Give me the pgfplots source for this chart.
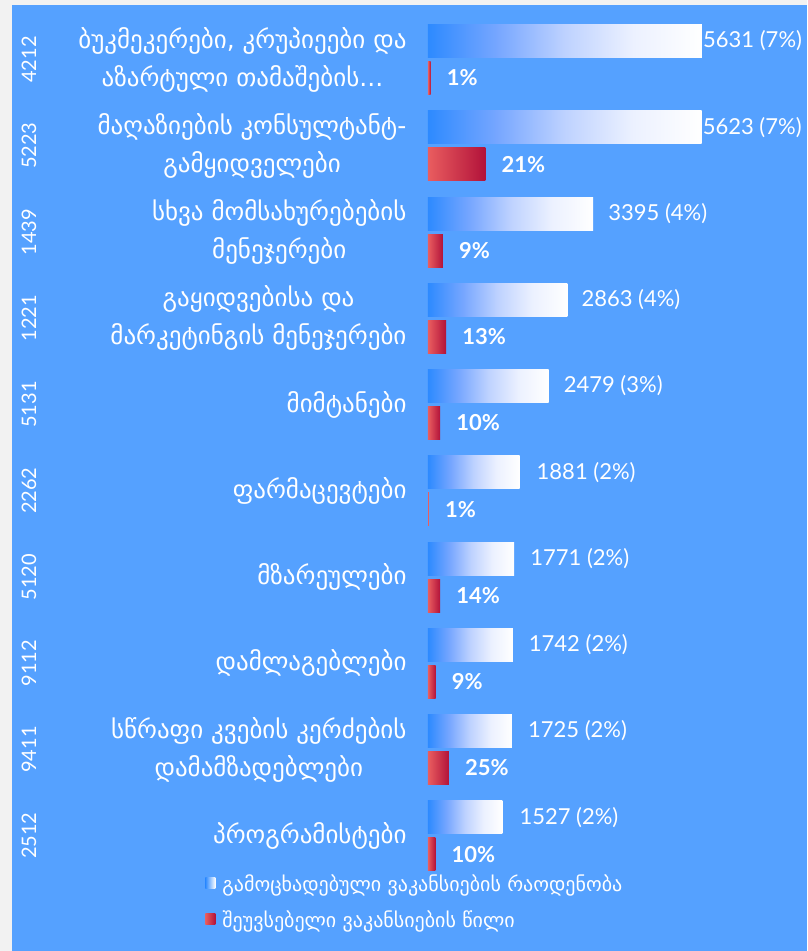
\documentclass[border=0pt]{standalone}
\usepackage{fontspec}
\setmainfont{Lato}
\newfontfamily\geo{DejaVu Sans}
\usepackage{pgfplots}
\usepackage{pgfplotstable}
\pgfplotsset{compat=1.18}

\definecolor{bg}{RGB}{85,161,255}
\definecolor{bluel}{RGB}{45,138,255}
\definecolor{blueq}{RGB}{118,166,255}
\definecolor{blueh}{RGB}{190,210,255}
\definecolor{bluet}{RGB}{236,241,255}
\definecolor{redl}{RGB}{233,93,95}
\definecolor{redr}{RGB}{178,18,58}

% the bar is mapped onto 25bp..75bp of the shading
\pgfdeclarehorizontalshading{bluebar}{100bp}{color(0bp)=(bluel); color(25bp)=(bluel);
  color(37.5bp)=(blueq); color(50bp)=(blueh); color(62.5bp)=(bluet);
  color(75bp)=(white); color(100bp)=(white)}

% announced vacancies (count, share) -- row 0 is the top bar
\pgfplotstableread[col sep=comma]{
i,v,lab,dx
0,5631,5631 (7\%),1
1,5623,5623 (7\%),1
2,3395,3395 (4\%),15
3,2863,2863 (4\%),14
4,2479,2479 (3\%),15
5,1881,1881 (2\%),17
6,1771,1771 (2\%),16
7,1742,1742 (2\%),16
8,1725,1725 (2\%),16
9,1527,1527 (2\%),17
}\announced

% unfilled vacancies (count on the same scale, labelled with share)
\pgfplotstableread[col sep=comma]{
i,v,lab
0,56,1\%
1,1181,21\%
2,306,9\%
3,372,13\%
4,248,10\%
5,19,1\%
6,248,14\%
7,157,9\%
8,431,25\%
9,153,10\%
}\unfilled

\pgfplotsset{
  bluebars/.style={xbar, bar shift=18.5pt, draw=none, shading=bluebar, forget plot,
    point meta=explicit symbolic,
    visualization depends on={\thisrow{dx} \as \labdx},
    nodes near coords,
    every node near coord/.append style={anchor=west, inner sep=0pt,
        xshift=\labdx pt, yshift=18.5pt, text=white, font=\fontsize{22}{24}\selectfont}},
  redbars/.style={xbar, bar shift=-18.5pt, draw=none, forget plot,
    left color=redl, right color=redr,
    point meta=explicit symbolic,
    nodes near coords,
    every node near coord/.append style={anchor=west, inner sep=0pt,
        xshift=16pt, yshift=-18.5pt, text=white, font=\bfseries\fontsize{22}{24}\selectfont}},
}

\begin{document}
\begin{tikzpicture}
\useasboundingbox (0,0) rectangle (807pt,951pt);
\fill[black!5] (0,0) rectangle (807pt,951pt);
\fill[bg] (12pt,0) rectangle (807pt,946pt);
\begin{axis}[
    at={(428pt,0pt)}, anchor=south west,
    scale only axis, width=379pt, height=951pt,
    xmin=0, xmax=7789,
    ymin=-0.690, ymax=10.336, y dir=reverse,
    axis lines=none, clip=false,
    bar width=33pt,
    legend style={at={(axis description cs:-0.588,0.083)}, anchor=north west,
        draw=none, fill=none, text=white, inner sep=0pt,
        font=\geo\fontsize{20}{22}\selectfont, row sep=14pt,
        cells={anchor=west}, nodes={inner xsep=7pt}},
]
\addlegendimage{draw=none, legend image code/.code={\shade[left color=bluel, right color=white] (0pt,-5pt) rectangle (10pt,6pt);}}
\addlegendentry{გამოცხადებული ვაკანსიების რაოდენობა}
\addlegendimage{draw=none, legend image code/.code={\shade[left color=redl, right color=redr] (0pt,-5pt) rectangle (10pt,6pt);}}
\addlegendentry{შეუვსებელი ვაკანსიების წილი}

% one plot per row, so that every bar gets its own gradient
\pgfplotsinvokeforeach{0,...,9}{
  \addplot[bluebars, restrict expr to domain={\thisrow{i}}{#1:#1}]
    table[x=v, y=i, meta=lab] {\announced};
  \addplot[redbars, restrict expr to domain={\thisrow{i}}{#1:#1}]
    table[x=v, y=i, meta=lab] {\unfilled};
}

% category names
\tikzset{cat/.style={anchor=east, align=center, text=white,
    font=\geo\fontsize{25}{38}\selectfont},
  code/.style={rotate=90, text=white, font=\fontsize{20}{24}\selectfont}}
\node[cat] at ([xshift=-18pt]axis cs:0,0) {ბუკმეკერები, კრუპიეები და\\აზარტული თამაშების...};
\node[cat] at ([xshift=-18pt]axis cs:0,1) {მაღაზიების კონსულტანტ-\\გამყიდველები};
\node[cat] at ([xshift=-18pt]axis cs:0,2) {სხვა მომსახურებების\\მენეჯერები};
\node[cat] at ([xshift=-18pt]axis cs:0,3) {გაყიდვებისა და\\მარკეტინგის მენეჯერები};
\node[cat] at ([xshift=-18pt]axis cs:0,4) {მიმტანები};
\node[cat] at ([xshift=-18pt]axis cs:0,5) {ფარმაცევტები};
\node[cat] at ([xshift=-18pt]axis cs:0,6) {მზარეულები};
\node[cat] at ([xshift=-18pt]axis cs:0,7) {დამლაგებლები};
\node[cat] at ([xshift=-18pt]axis cs:0,8) {სწრაფი კვების კერძების\\დამამზადებლები};
\node[cat] at ([xshift=-18pt]axis cs:0,9) {პროგრამისტები};

% occupation codes
\node[code] at ([xshift=-399pt]axis cs:0,0) {4212};
\node[code] at ([xshift=-399pt]axis cs:0,1) {5223};
\node[code] at ([xshift=-399pt]axis cs:0,2) {1439};
\node[code] at ([xshift=-399pt]axis cs:0,3) {1221};
\node[code] at ([xshift=-399pt]axis cs:0,4) {5131};
\node[code] at ([xshift=-399pt]axis cs:0,5) {2262};
\node[code] at ([xshift=-399pt]axis cs:0,6) {5120};
\node[code] at ([xshift=-399pt]axis cs:0,7) {9112};
\node[code] at ([xshift=-399pt]axis cs:0,8) {9411};
\node[code] at ([xshift=-399pt]axis cs:0,9) {2512};
\end{axis}
\end{tikzpicture}
\end{document}
